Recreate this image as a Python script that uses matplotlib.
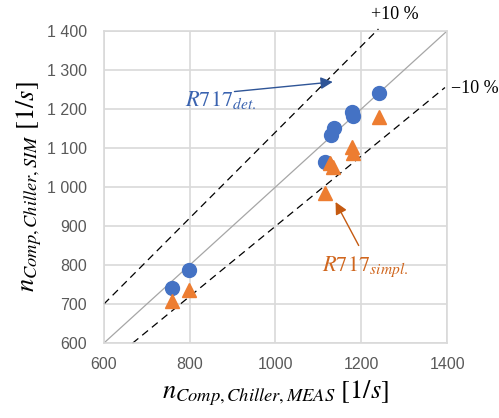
import numpy as np
import matplotlib.pyplot as plt
from matplotlib.ticker import FuncFormatter

plt.rcParams['mathtext.fontset'] = 'stix'

# measured vs simulated compressor speed
meas_det = [758, 798, 1115, 1129, 1136, 1178, 1181, 1241]
sim_det = [741, 787, 1064, 1133, 1151, 1192, 1182, 1241]

meas_simpl = [758, 798, 1115, 1127, 1134, 1178, 1181, 1241]
sim_simpl = [708, 736, 985, 1062, 1051, 1103, 1087, 1180]

# reference lines
ideal_x = [600, 1400]
ideal_y = [600, 1400]
upper_x = [600, 1240]
upper_y = [700, 1405]
lower_x = [667, 1395]
lower_y = [600, 1255]

x_ticks = [600, 800, 1000, 1200, 1400]
y_ticks = [600, 700, 800, 900, 1000, 1100, 1200, 1300, 1400]

blue = '#4472C4'
orange = '#ED7D31'

fig = plt.figure(figsize=(4.99, 4.18), dpi=100)
ax = fig.add_axes([0.208, 0.179, 0.688, 0.747])

ax.plot(ideal_x, ideal_y, color='#A6A6A6', lw=0.9, zorder=2)
ax.plot(upper_x, upper_y, color='black', lw=0.9, ls=(0, (6, 4)), zorder=2, clip_on=False)
ax.plot(lower_x, lower_y, color='black', lw=0.9, ls=(0, (6, 4)), zorder=2, clip_on=False)

ax.plot(meas_det, sim_det, 'o', color=blue, ms=10, zorder=3, clip_on=False)
ax.plot(meas_simpl, sim_simpl, '^', color=orange, ms=10, zorder=3, clip_on=False)

ax.set_xlim(600, 1400)
ax.set_ylim(600, 1400)
ax.set_xticks(x_ticks)
ax.set_yticks(y_ticks)
ax.yaxis.set_major_formatter(FuncFormatter(lambda v, p: f'{int(v):,}'.replace(',', ' ')))
ax.grid(True, color='#D9D9D9', lw=1.2)
ax.set_axisbelow(True)
for s in ax.spines.values():
    s.set_color('#D9D9D9')
    s.set_linewidth(1.2)
ax.tick_params(length=0, labelcolor='#595959', labelsize=11.5)
ax.tick_params(axis='x', pad=10)
ax.tick_params(axis='y', pad=12)
for lab in ax.get_xticklabels() + ax.get_yticklabels():
    lab.set_fontfamily('Liberation Sans')

ax.set_xlabel(r'$n_{Comp,Chiller,MEAS}\ [1/s]$', fontsize=19, labelpad=5)
ax.set_ylabel(r'$n_{Comp,Chiller,SIM}\ [1/s]$', fontsize=19, labelpad=2)

ax.annotate('', xy=(1140, 1270), xytext=(898, 1244),
            arrowprops=dict(arrowstyle='-|>', color='#2F5597', lw=1, mutation_scale=18))
ax.text(789, 1223, r'$R717_{det.}$', color='#3A63B0', fontsize=16, va='center')

ax.annotate('', xy=(1137, 968), xytext=(1197, 844),
            arrowprops=dict(arrowstyle='-|>', color='#C55A11', lw=1, mutation_scale=18))
ax.text(1108, 795, r'$R717_{simpl.}$', color='#D0661E', fontsize=16, va='center')

ax.text(1278, 1443, '+10 %', fontsize=13, family='Liberation Serif', ha='center', va='center')
ax.text(1410, 1252, '\u221210 %', fontsize=13, family='Liberation Serif', ha='left', va='center')

fig.savefig('out.png', dpi=100)
